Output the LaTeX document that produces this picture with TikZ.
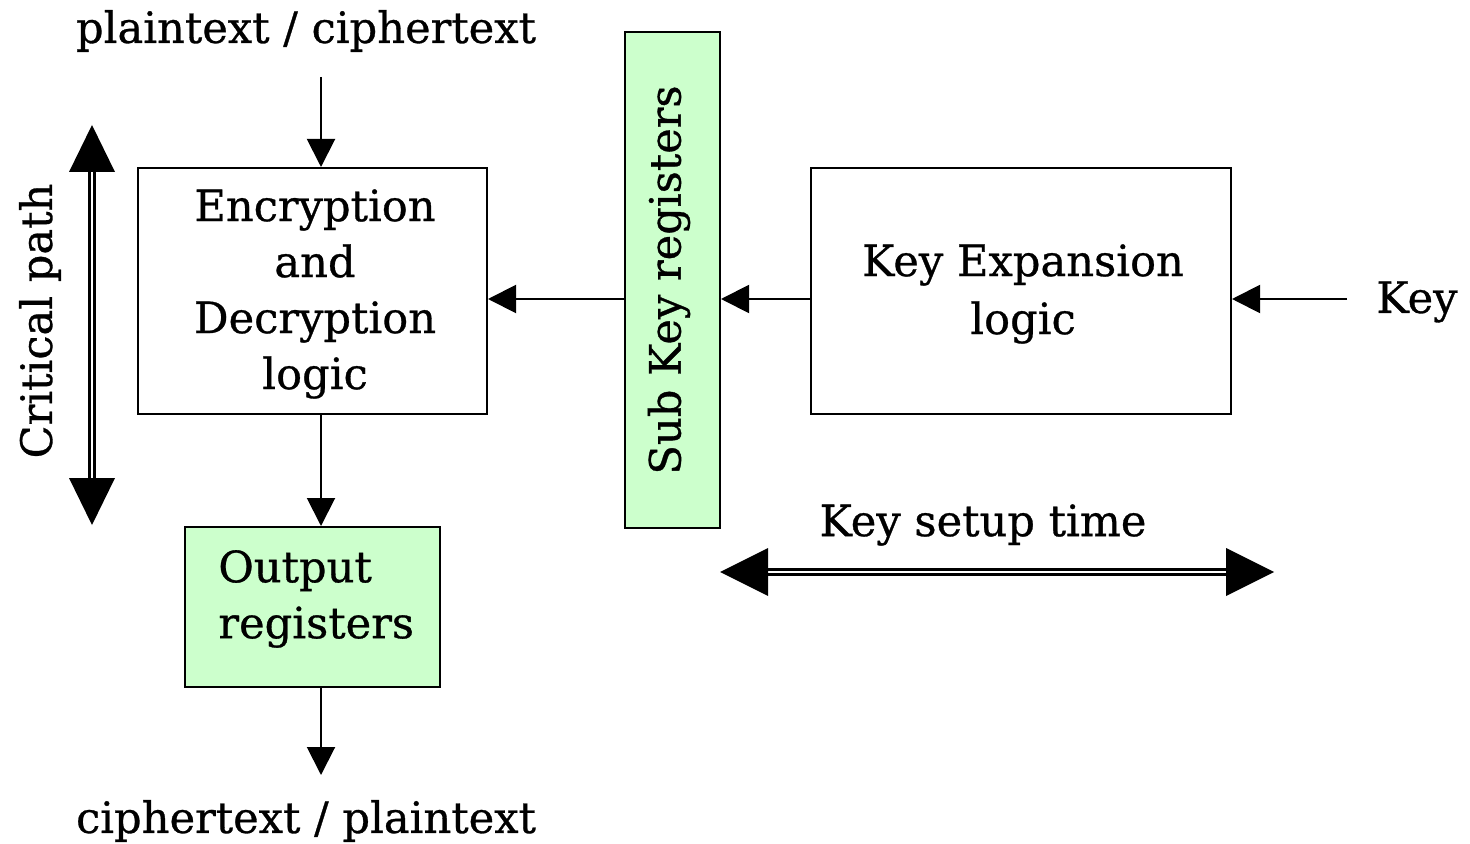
\documentclass[tikz,border=0pt]{standalone}
\usepackage{fontspec}
\setmainfont{DejaVu Serif}[FakeBold=0.7]
\usetikzlibrary{arrows.meta,calc}
\definecolor{regfill}{HTML}{CCFFCC}
\tikzset{
  blk/.style={draw, line width=1pt, inner sep=0pt},
  lbl/.style={font=\fontsize{21.6}{28}\selectfont, inner sep=0pt, align=center},
  flow/.style={line width=1pt, -{Triangle[length=14pt,width=14pt]}},
  dbl/.style={draw, double, double distance=1.4pt, line width=1.1pt},
  head/.style={fill=black},
}
\begin{document}
\begin{tikzpicture}[x=0.5pt,y=-0.5pt]
\useasboundingbox (0,0) rectangle (1470,844);

% blocks
\node[blk, minimum width=174.5pt, minimum height=123pt] (enc) at (312.5,291) {};
\node[lbl] (enctxt) at (315,294) {Encryption\\and\\Decryption\\logic};
\node[blk, fill=regfill, minimum width=127.5pt, minimum height=80pt] (out) at (312.5,607) {};
\node[lbl, align=left, anchor=west] (outtxt) at (218,599) {Output\\registers};
\node[blk, fill=regfill, minimum width=47.5pt, minimum height=248pt] (sub) at (672.5,280) {};
\node[lbl, rotate=90] (subtxt) at (669,280) {Sub Key registers};
\node[blk, minimum width=210pt, minimum height=123pt] (kx) at (1021,291) {};
\node[lbl, font=\fontsize{21.6}{29}\selectfont] (kxtxt) at (1023,294) {Key Expansion\\logic};

% labels
\node[lbl] (pin) at (306,31) {plaintext / ciphertext};
\node[lbl] (pout) at (306,821) {ciphertext / plaintext};
\node[lbl, anchor=west] (key) at (1376,302) {Key};
\node[lbl, rotate=90] (crit) at (40,321) {Critical path};
\node[lbl] (kst) at (983,525) {Key setup time};

% data path
\coordinate (cx) at (321,0);
\coordinate (row) at (0,299);
\coordinate (inend) at (321,77);
\coordinate (outend) at (321,775);
\coordinate (keyend) at (1347,299);
\draw[flow] (inend) -- (enc.north -| cx);
\draw[flow] (enc.south -| cx) -- (out.north -| cx);
\draw[flow] (out.south -| cx) -- (outend);
\draw[flow] (sub.west |- row) -- (enc.east |- row);
\draw[flow] (kx.west |- row) -- (sub.east |- row);
\draw[flow] (keyend) -- (kx.east |- row);

% critical path span
\coordinate (ct) at (92,125);
\coordinate (cb) at (92,525);
\path[dbl] ($(ct)+(0,47)$) -- ($(cb)+(0,-47)$);
\fill[head] (ct) -- ++(-23,47) -- ++(46,0) -- cycle;
\fill[head] (cb) -- ++(-23,-47) -- ++(46,0) -- cycle;

% key setup span
\coordinate (kl) at (720,572);
\coordinate (kr) at (1274,572);
\path[dbl] ($(kl)+(48,0)$) -- ($(kr)+(-48,0)$);
\fill[head] (kl) -- ++(48,-24) -- ++(0,48) -- cycle;
\fill[head] (kr) -- ++(-48,-24) -- ++(0,48) -- cycle;
\end{tikzpicture}
\end{document}
